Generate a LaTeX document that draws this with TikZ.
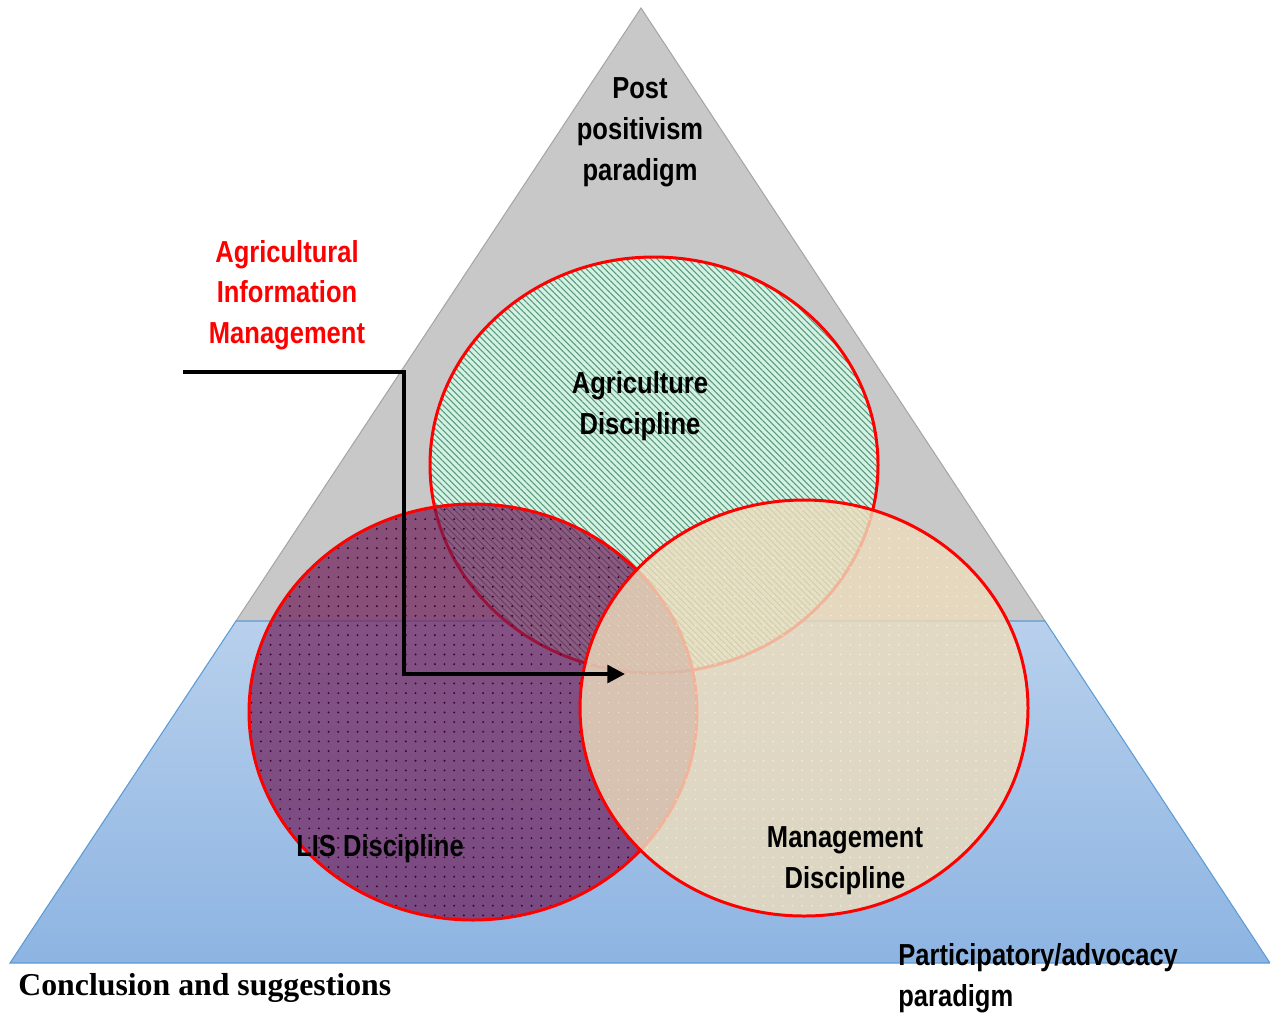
\documentclass[tikz,border=0pt]{standalone}
\usepackage{fontspec}
\newfontfamily\nb[FakeStretch=0.84]{Liberation Sans}
\newfontfamily\tb{Liberation Serif}
\usetikzlibrary{patterns.meta,arrows.meta}
\definecolor{graytri}{HTML}{C8C8C8}
\definecolor{grayedge}{HTML}{A6A6A6}
\definecolor{bluetop}{HTML}{B8D0EC}
\definecolor{bluebot}{HTML}{8DB4E2}
\definecolor{blueedge}{HTML}{5B9BD5}
\definecolor{mint}{HTML}{D2F2E4}
\definecolor{hatch}{HTML}{5A977B}
\definecolor{purp}{HTML}{6E1C58}
\definecolor{purpdot}{HTML}{3E0030}
\definecolor{cream}{HTML}{ECDCBC}
\definecolor{vred}{HTML}{FF0000}
\tikzset{
  lbl/.style={font=\nb\bfseries\fontsize{17.3}{23.2}\selectfont, align=center, text=black, inner sep=0pt},
  redlbl/.style={lbl, text=vred},
  ring/.style={draw=vred, line width=1.7pt},
  link/.style={line width=2.2pt, -{Triangle[length=10pt,width=10pt]}}
}
\begin{document}
\begin{tikzpicture}[x=0.02cm,y=-0.02cm]
\useasboundingbox (0,0) rectangle (1270,1012);
% triangle upper part
\fill[graytri] (641,8) -- (236,621) -- (1045,621) -- cycle;
\draw[grayedge, line width=0.6pt] (236,621) -- (641,8) -- (1045,621);
% lower part
\shade[top color=bluetop, bottom color=bluebot] (236,621) -- (1045,621) -- (1270,963) -- (10,963) -- cycle;
\draw[blueedge, line width=0.6pt] (236,621) -- (10,963) -- (1270,963) -- (1045,621) -- cycle;
% green ellipse
\fill[mint] (654,465) ellipse [x radius=224, y radius=208];
\path[pattern={Lines[angle=-45,distance=2.5pt,line width=0.6pt]}, pattern color=hatch] (654,465) ellipse [x radius=224, y radius=208];
\draw[ring] (654,465) ellipse [x radius=224, y radius=208];
% purple ellipse
\fill[purp, fill opacity=0.7] (473,712) ellipse [x radius=224, y radius=208];
\path[pattern={Dots[distance=5.5pt,radius=0.6pt]}, pattern color=purpdot] (473,712) ellipse [x radius=224, y radius=208];
\draw[ring] (473,712) ellipse [x radius=224, y radius=208];
% cream ellipse
\fill[cream, fill opacity=0.82] (804,708) ellipse [x radius=224, y radius=208];
\path[pattern={Dots[distance=5.5pt,radius=0.5pt]}, pattern color=white!90!yellow, opacity=0.6] (804,708) ellipse [x radius=224, y radius=208];
\draw[ring] (804,708) ellipse [x radius=224, y radius=208];
% labels
\node[lbl] (post) at (640,132) {Post\\positivism\\paradigm};
\node[lbl] (agri) at (640,406) {Agriculture\\Discipline};
\node[lbl] (lis) at (380,849) {LIS Discipline};
\node[lbl] (mgmt) at (845,861) {Management\\Discipline};
\node[redlbl] (aim) at (287,295) {Agricultural\\Information\\Management};
\node[lbl, align=left, anchor=north west] (part) at (898,943) {Participatory/advocacy\\paradigm};
\node[font=\tb\bfseries\fontsize{18.1}{22}\selectfont, anchor=base west, inner sep=0pt] (concl) at (18,995) {Conclusion and suggestions};
% connector
\coordinate (start) at (183,372);
\coordinate (target) at (625,674);
\draw[link] (start) -- (404,372) -- (404,674) -- (target);
\end{tikzpicture}
\end{document}
